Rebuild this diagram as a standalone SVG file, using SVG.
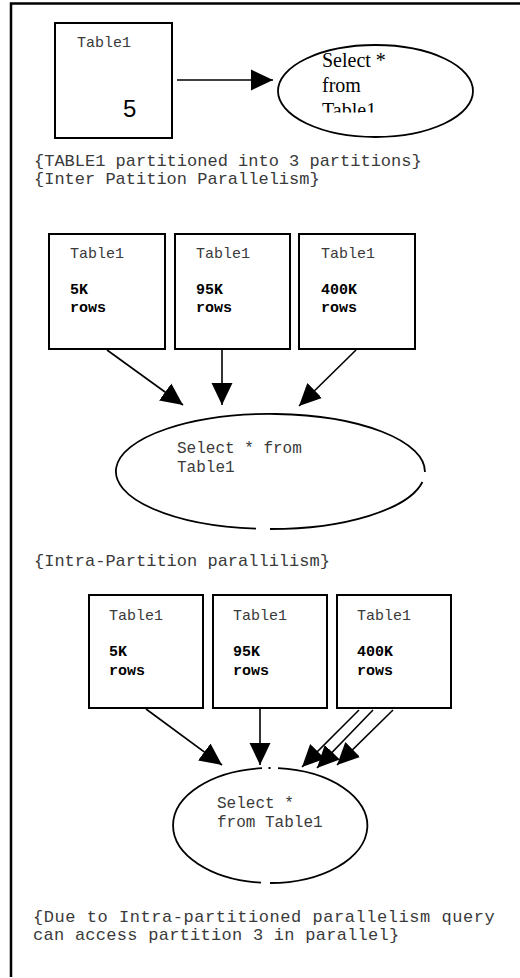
<svg xmlns="http://www.w3.org/2000/svg" width="520" height="978" viewBox="0 0 520 978">
  <style>
    .frame { stroke: #000; stroke-width: 2.5; fill: none; }
    .box { fill: #fff; stroke: #000; stroke-width: 2; }
    .oval { fill: none; stroke: #000; stroke-width: 1.8; }
    .edge { stroke: #000; stroke-width: 1.6; fill: none; marker-end: url(#head); }
    .mono { font-family: "Liberation Mono", "Courier New", monospace; fill: #3a3a3a; }
    .lbl { font-size: 15px; }
    .cnt { font-size: 15px; font-weight: bold; fill: #000; }
    .cap { font-size: 17px; }
    .serif { font-family: "Liberation Serif", "Times New Roman", serif; font-size: 20px; fill: #000; }
  </style>
  <defs>
    <marker id="head" markerUnits="userSpaceOnUse" markerWidth="22" markerHeight="22" viewBox="0 0 21 20" refX="21" refY="10" orient="auto">
      <path d="M0,0 L21,10 L0,20 Z" fill="#000"/>
    </marker>
    <clipPath id="oval1-clip">
      <rect x="300" y="50" width="150" height="62.5"/>
    </clipPath>
  </defs>

  <rect width="520" height="978" fill="#fff"/>
  <!-- page frame: top and left edges only -->
  <path class="frame" d="M11,977 V3.5 H520"/>

  <!-- single table and query -->
  <g id="table-whole">
    <rect class="box" x="55" y="23" width="117" height="115"/>
    <text class="mono lbl" x="77" y="47">Table1</text>
    <text x="123" y="117" font-family="Liberation Sans, Arial, sans-serif" font-size="24">5</text>
  </g>
  <g id="query-whole">
    <ellipse class="oval" cx="375.5" cy="91" rx="97.5" ry="46"/>
    <g clip-path="url(#oval1-clip)">
      <text class="serif" x="322" y="67">Select *</text>
      <text class="serif" x="322" y="92">from</text>
      <text class="serif" x="322" y="117">Table1</text>
    </g>
  </g>

  <g id="caption-inter" class="mono cap">
    <text x="34" y="166">{TABLE1 partitioned into 3 partitions}</text>
    <text x="34" y="184">{Inter Patition Parallelism}</text>
  </g>

  <!-- inter-partition row -->
  <g id="part-a1">
    <rect class="box" x="49" y="234" width="116" height="115"/>
    <text class="mono lbl" x="70" y="258">Table1</text>
    <text class="mono cnt" x="70" y="294">5K</text>
    <text class="mono cnt" x="70" y="312">rows</text>
  </g>
  <g id="part-b1">
    <rect class="box" x="175" y="234" width="115" height="115"/>
    <text class="mono lbl" x="196" y="258">Table1</text>
    <text class="mono cnt" x="196" y="294">95K</text>
    <text class="mono cnt" x="196" y="312">rows</text>
  </g>
  <g id="part-c1">
    <rect class="box" x="299" y="234" width="116" height="115"/>
    <text class="mono lbl" x="321" y="258">Table1</text>
    <text class="mono cnt" x="321" y="294">400K</text>
    <text class="mono cnt" x="321" y="312">rows</text>
  </g>
  <g id="query-inter">
    <path class="oval" d="M270,529 A154.5,57.5 0 0 0 422.4,482 M424.9,472 A154.5,57.5 0 1 0 256,528.7"/>
    <text class="mono" font-size="16" x="177" y="453">Select * from</text>
    <text class="mono" font-size="16" x="177" y="472">Table1</text>
  </g>

  <g id="caption-intra" class="mono cap">
    <text x="34" y="566">{Intra-Partition parallilism}</text>
  </g>

  <!-- intra-partition row -->
  <g id="part-a2">
    <rect class="box" x="89" y="595" width="114" height="113"/>
    <text class="mono lbl" x="109" y="620">Table1</text>
    <text class="mono cnt" x="109" y="656">5K</text>
    <text class="mono cnt" x="109" y="675">rows</text>
  </g>
  <g id="part-b2">
    <rect class="box" x="213" y="595" width="114" height="113"/>
    <text class="mono lbl" x="233" y="620">Table1</text>
    <text class="mono cnt" x="233" y="656">95K</text>
    <text class="mono cnt" x="233" y="675">rows</text>
  </g>
  <g id="part-c2">
    <rect class="box" x="337" y="595" width="114" height="113"/>
    <text class="mono lbl" x="357" y="620">Table1</text>
    <text class="mono cnt" x="357" y="656">400K</text>
    <text class="mono cnt" x="357" y="675">rows</text>
  </g>
  <g id="query-intra">
    <path class="oval" d="M278,768.2 A97.5,57.5 0 0 1 270,883 M261,882.7 A97.5,57.5 0 0 1 262,768.2"/>
    <rect x="268.5" y="767" width="2" height="2" fill="#000"/>
    <text class="mono" font-size="16" x="217" y="808">Select *</text>
    <text class="mono" font-size="16" x="217" y="827">from Table1</text>
  </g>

  <g id="caption-result" class="mono cap">
    <text x="33" y="922" letter-spacing="0.55">{Due to Intra-partitioned parallelism query</text>
    <text x="33" y="940" letter-spacing="0.27">can access partition 3 in parallel}</text>
  </g>

  <!-- connectors -->
  <g id="connectors">
    <line class="edge" x1="177" y1="80" x2="273" y2="80"/>
    <line class="edge" x1="107" y1="350" x2="183" y2="405"/>
    <line class="edge" x1="222" y1="350" x2="222" y2="405"/>
    <line class="edge" x1="356" y1="350" x2="299" y2="406"/>
    <line class="edge" x1="146" y1="709" x2="222" y2="765"/>
    <line class="edge" x1="260" y1="709" x2="260" y2="765"/>
    <line class="edge" x1="359" y1="710" x2="302" y2="767"/>
    <line class="edge" x1="373" y1="710" x2="317" y2="768"/>
    <line class="edge" x1="393" y1="710" x2="337" y2="765"/>
  </g>
</svg>
